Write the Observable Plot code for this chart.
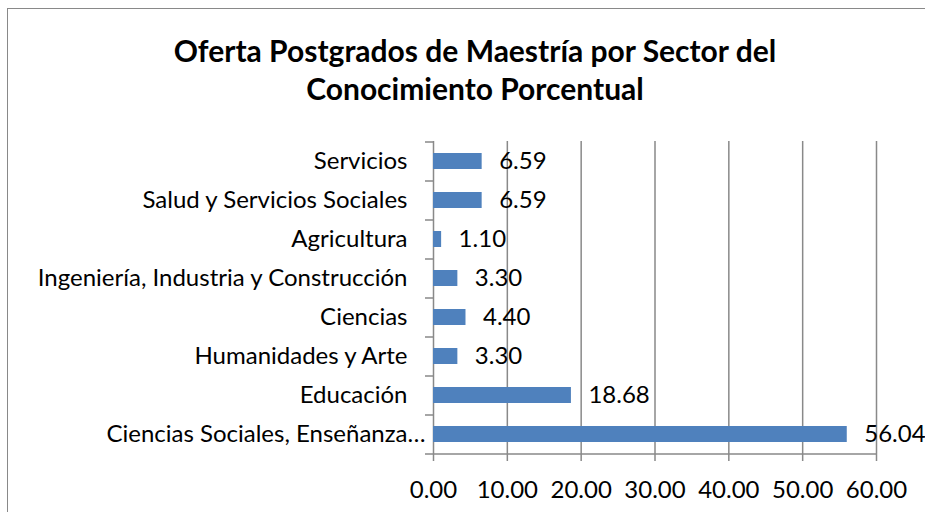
<!DOCTYPE html>
<html>
<head>
<meta charset="utf-8">
<script src="https://cdn.jsdelivr.net/npm/d3@7"></script>
<script src="https://cdn.jsdelivr.net/npm/@observablehq/plot@0.6"></script>
<style>
  html, body { margin: 0; padding: 0; background: #fff; overflow: hidden; }
  #wrap { position: relative; width: 925px; height: 512px; overflow: hidden; font-family: Lato, "DejaVu Sans", sans-serif; }
  #frame { position: absolute; left: 7px; top: 8px; width: 1000px; height: 1000px; border: 1.5px solid #898989; box-sizing: border-box; }
  #title { position: absolute; left: 0; top: 31px; width: 950px; text-align: center; font-weight: bold; font-size: 30px; line-height: 38px; color: #000; }
  #chart { position: absolute; left: 0; top: 120px; }
</style>
</head>
<body>
<div id="wrap">
  <div id="frame"></div>
  <div id="title">Oferta Postgrados de Maestría por Sector del<br>Conocimiento Porcentual</div>
  <div id="chart"></div>
</div>
<script>
const categories = [
  "Servicios",
  "Salud y Servicios Sociales",
  "Agricultura",
  "Ingeniería, Industria y Construcción",
  "Ciencias",
  "Humanidades y Arte",
  "Educación",
  "Ciencias Sociales, Enseñanza…"
];
const values = [6.59, 6.59, 1.10, 3.30, 4.40, 3.30, 18.68, 56.04];
const xTicks = [0, 10, 20, 30, 40, 50, 60];

const data = categories.map((c, i) => ({cat: c, value: values[i]}));

const W = 925, H = 392, mt = 21, mb = 59, ml = 433, mr = 49;
const step = (H - mt - mb) / categories.length;
const grid = "#898989";
const tickLen = -8 * 60 / (W - ml - mr);
const lastCat = categories[categories.length - 1];

const chart = Plot.plot({
  width: W,
  height: H,
  marginTop: mt,
  marginBottom: mb,
  marginLeft: ml,
  marginRight: mr,
  style: {fontFamily: "Lato, 'DejaVu Sans', sans-serif", fontSize: "24px", color: "#000", background: "transparent", overflow: "visible"},
  x: {domain: [0, 60], ticks: xTicks},
  y: {domain: categories, paddingInner: 0.59, paddingOuter: 0.295},
  marks: [
    Plot.ruleX(xTicks, {x: d => d, stroke: grid, strokeWidth: 1.5, strokeOpacity: 1}),
    Plot.ruleY(categories, {y: d => d, dy: -step / 2, x1: tickLen, x2: 0, stroke: grid, strokeWidth: 1.5}),
    Plot.ruleY([lastCat], {y: d => d, dy: step / 2, x1: tickLen, x2: 60, stroke: grid, strokeWidth: 1.5}),
    Plot.barX(data, {x: "value", y: "cat", fill: "#4F81BD"}),
    Plot.text(data, {x: "value", y: "cat", text: d => d.value.toFixed(2), dx: 17, textAnchor: "start", fontSize: 24, fill: "#000"}),
    Plot.axisX({ticks: xTicks, tickFormat: d => d.toFixed(2), tickSize: 8, tickPadding: 19, stroke: grid, strokeWidth: 1.5, strokeOpacity: 1, fontSize: 24, label: null}),
    Plot.axisY({ticks: categories.slice(0, -1), tickSize: 0, tickPadding: 26, fontSize: 24, label: null}),
    Plot.axisY({ticks: [lastCat], tickSize: 0, tickPadding: 8, fontSize: 24, label: null})
  ]
});
document.getElementById("chart").appendChild(chart);
</script>
</body>
</html>
